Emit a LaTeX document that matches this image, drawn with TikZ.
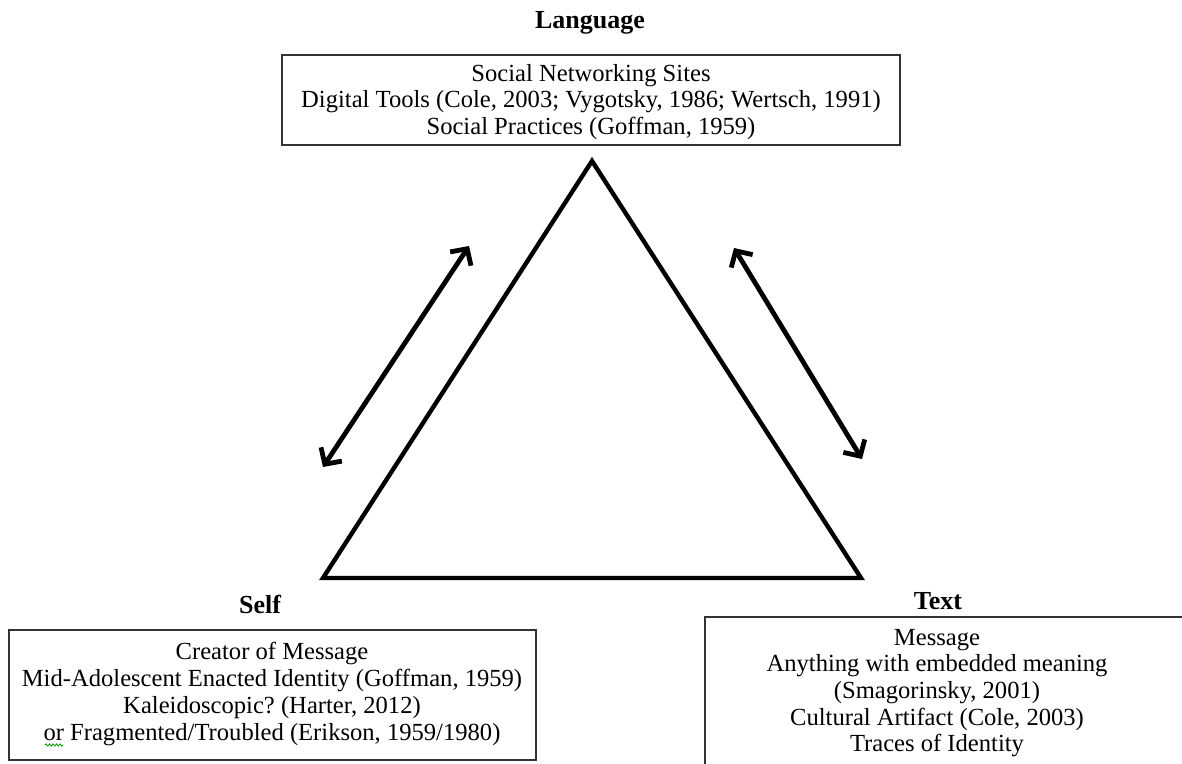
\documentclass[tikz,border=0pt]{standalone}
\usepackage{fontspec}
\setmainfont{Liberation Serif}
\frenchspacing
\usetikzlibrary{arrows.meta,decorations.pathmorphing}
\tikzset{
  body/.style={font=\fontsize{24.6}{26.7}\selectfont, align=center, inner sep=0pt},
  heading/.style={font=\fontsize{26}{28}\selectfont\bfseries, inner sep=0pt},
  framebox/.style={draw=black!80, line width=1.6pt, inner sep=0pt},
  edge/.style={line width=4.4pt, line join=miter},
  barb/.tip={Straight Barb[length=12pt,width=25pt]},
  twoway/.style={barb-barb, line width=4.8pt},
}
\begin{document}
\begin{tikzpicture}[x=1pt,y=-1pt]
  \useasboundingbox (0,0) rectangle (1182,763);
  \clip (0,0) rectangle (1182,763);

  % corner headings
  \node[heading] (lang) at (590,23) {Language};
  \node[heading] (self) at (260,604) {Self};
  \node[heading] (text) at (938,601) {Text};

  % language box
  \node[framebox, minimum width=618pt, minimum height=90pt] (lbox) at (591,100) {};
  \node[body] (ltext) at (591,102) {Social Networking Sites\\
    Digital Tools (Cole, 2003; Vygotsky, 1986; Wertsch, 1991)\\
    Social Practices (Goffman, 1959)};

  % self box
  \node[framebox, minimum width=527pt, minimum height=130pt] (sbox) at (272.5,695) {};
  \node[body] (stext) at (272,694) {Creator of Message\\
    Mid-Adolescent Enacted Identity (Goffman, 1959)\\
    Kaleidoscopic? (Harter, 2012)\\
    or Fragmented/Troubled (Erikson, 1959/1980)};
  % spell-check squiggle under "or"
  \coordinate (sq1) at (45,745);
  \coordinate (sq2) at (63,745);
  \draw[green!60!black, line width=0.8pt, decorate,
        decoration={snake, amplitude=1.1pt, segment length=3.5pt}] (sq1) -- (sq2);

  % text box
  \node[framebox, minimum width=485pt, minimum height=153pt] (tbox) at (947.5,693.5) {};
  \node[body] (ttext) at (937,693) {Message\\
    Anything with embedded meaning\\
    (Smagorinsky, 2001)\\
    Cultural Artifact (Cole, 2003)\\
    Traces of Identity};

  % triangle
  \coordinate (apex) at (592,161);
  \coordinate (bl) at (323,578);
  \coordinate (br) at (861,578);
  \draw[edge] (apex) -- (br) -- (bl) -- cycle;

  % two-way arrows beside the sides
  \coordinate (la1) at (323,467);
  \coordinate (la2) at (469,246);
  \coordinate (ra1) at (734,248);
  \coordinate (ra2) at (862,459);
  \draw[twoway] (la1) -- (la2);
  \draw[twoway] (ra1) -- (ra2);
\end{tikzpicture}
\end{document}
